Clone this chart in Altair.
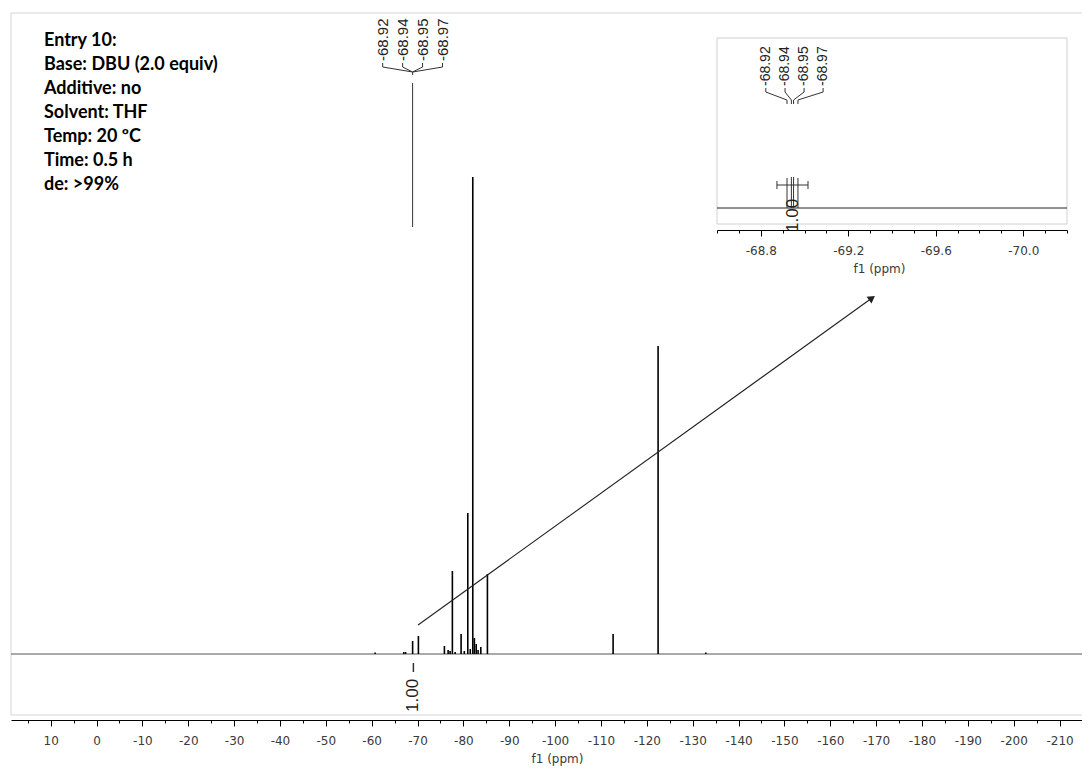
import altair as alt
import pandas as pd

# ---------------- data ----------------
# main 19F spectrum: peak positions (ppm) and heights (arbitrary units)
peak_ppm = [-60.75, -67.0, -67.4, -68.93, -70.19, -75.86, -76.67, -77.1, -77.6,
            -78.2, -79.5, -80.2, -80.96, -81.5, -82.05, -82.4, -82.8, -83.2,
            -83.8, -85.24, -112.65, -122.46, -132.86]
peak_height = [1.5, 2, 2, 13, 18, 8, 4, 3, 83,
               2, 20, 3, 141, 5, 477, 16, 10, 4,
               7, 80, 20, 308, 1.5]

label_text = ["-68.92", "-68.94", "-68.95", "-68.97"]
main_label_ppm = [-62.4, -66.75, -71.1, -75.45]
multiplet_ppm = -68.93
integral_main_ppm = -69.1
integral_value = "1.00"

# inset (zoom of the -68.9 multiplet)
inset_peak_ppm = [-68.92, -68.94, -68.95, -68.97]
inset_peak_height = [30, 31, 31, 30]
inset_label_ppm = [-68.823, -68.911, -68.998, -69.085]
inset_integral_from = -68.874
inset_integral_to = -69.016
inset_integral_text_ppm = -68.947

info_lines = ["Entry 10:", "Base: DBU (2.0 equiv)", "Additive: no", "Solvent: THF",
              "Temp: 20 \u00baC", "Time: 0.5 h", "de: >99%"]

main_ticks = [15, 10, 5, 0, -5, -10, -15, -20, -25, -30, -35, -40, -45, -50, -55,
              -60, -65, -70, -75, -80, -85, -90, -95, -100, -105, -110, -115, -120,
              -125, -130, -135, -140, -145, -150, -155, -160, -165, -170, -175, -180,
              -185, -190, -195, -200, -205, -210]
inset_ticks = [-68.6, -68.7, -68.8, -68.9, -69.0, -69.1, -69.2, -69.3, -69.4,
               -69.5, -69.6, -69.7, -69.8, -69.9, -70.0, -70.1, -70.2]

X_MIN, X_MAX = 18.65, -214.9
Y_MIN, Y_MAX = -61, 641
IN_MIN, IN_MAX = -68.6, -70.2

# ---------------- scales / axes ----------------
TICK_FONT = "DejaVu Sans"
xs = alt.Scale(domain=[X_MIN, X_MAX], nice=False, zero=False)
ys = alt.Scale(domain=[Y_MIN, Y_MAX], nice=False, zero=False)

xaxis = alt.Axis(
    values=main_ticks,
    labelExpr="datum.value % 10 === 0 ? '' + datum.value : ''",
    tickSize={"condition": {"test": "datum.value % 10 === 0", "value": 6}, "value": 3},
    offset=5, grid=False, domainColor="black", tickColor="black", tickWidth=1,
    labelFont=TICK_FONT, labelFontSize=12, labelColor="#3a3a3a", labelPadding=9,
    labelFlush=False, labelOverlap=False,
    title="f1 (ppm)", titleFont=TICK_FONT, titleFontSize=12, titleFontWeight="normal",
    titleColor="#3a3a3a", titleX=546, titleY=38, titleBaseline="middle", titleAlign="center",
)

ixs = alt.Scale(domain=[IN_MIN, IN_MAX], range=[706, 1056], nice=False, zero=False)
iys = alt.Scale(domain=[-16, 170], range=[211, 25], nice=False, zero=False)
ixaxis = alt.Axis(
    orient="bottom", offset=-485,
    values=inset_ticks,
    labelExpr="abs(round(datum.value*10)) % 4 === 0 ? replace(format(datum.value, '.1f'), '\u2212', '-') : ''",
    tickSize={"condition": {"test": "abs(round(datum.value*10)) % 4 === 0", "value": 6}, "value": 3},
    grid=False, domainColor="black", tickColor="black", tickWidth=1,
    labelFont=TICK_FONT, labelFontSize=12, labelColor="#3a3a3a", labelPadding=9,
    labelFlush=False, labelOverlap=False,
    title="f1 (ppm)", titleFont=TICK_FONT, titleFontSize=12, titleFontWeight="normal",
    titleColor="#3a3a3a", titleX=868, titleY=38, titleBaseline="middle", titleAlign="center",
)


def MX(f):
    return alt.X(f, type="quantitative", scale=xs, axis=xaxis)


def MY(f):
    return alt.Y(f, type="quantitative", scale=ys, axis=None)


def IX(f):
    return alt.X(f, type="quantitative", scale=ixs, axis=ixaxis)


def IY(f):
    return alt.Y(f, type="quantitative", scale=iys, axis=None)


# ---------------- main spectrum layers ----------------
# light frame (top, left, bottom) of the spectrum window
frame_lines = pd.DataFrame({
    "x": [X_MIN, X_MIN, X_MIN], "x2": [X_MAX, X_MAX, X_MIN],
    "y": [Y_MAX, Y_MIN, Y_MIN], "y2": [Y_MAX, Y_MIN, Y_MAX]})
mframe = alt.Chart(frame_lines).mark_rule(color="#d4d4d4", strokeWidth=1).encode(
    x=MX("x"), x2="x2", y=MY("y"), y2="y2")

peaks_df = pd.DataFrame({"x": peak_ppm, "y": 0, "y2": peak_height})
baseline_df = pd.DataFrame({"x": [X_MIN], "x2": [X_MAX], "y": [0]})

baseline = alt.Chart(baseline_df).mark_rule(color="#555", strokeWidth=1).encode(
    x=MX("x"), x2="x2", y=MY("y"))
peaks = alt.Chart(peaks_df).mark_rule(color="black", strokeWidth=1.6).encode(
    x=MX("x"), y=MY("y"), y2="y2")

seg = []
for lx in main_label_ppm:
    seg.append((lx, lx, 591, 587))
    seg.append((lx, multiplet_ppm, 587, 582))
seg.append((multiplet_ppm, multiplet_ppm, 582, 579))
seg.append((multiplet_ppm, multiplet_ppm, 571, 427))
seg_df = pd.DataFrame(seg, columns=["x", "x2", "y", "y2"])
brackets = alt.Chart(seg_df).mark_rule(color="#333", strokeWidth=1).encode(
    x=MX("x"), x2="x2", y=MY("y"), y2="y2")

lab_df = pd.DataFrame({"x": main_label_ppm, "y": 593, "t": label_text})
labels = alt.Chart(lab_df).mark_text(
    angle=270, align="left", baseline="middle", font="Liberation Sans",
    fontSize=15, color="#222").encode(x=MX("x"), y=MY("y"), text="t:N")

integ_df = pd.DataFrame({"x": [integral_main_ppm], "y": [-9], "y2": [-18],
                         "ty": [-58], "t": [integral_value]})
integ_rule = alt.Chart(integ_df).mark_rule(color="#333", strokeWidth=1.5).encode(
    x=MX("x"), y=MY("y"), y2="y2")
integ_text = alt.Chart(integ_df).mark_text(
    angle=270, align="left", baseline="middle", font="Liberation Sans",
    fontSize=17, color="#222").encode(x=MX("x"), y=MY("ty"), text="t:N")

arrow_df = pd.DataFrame({"x": [-70.11], "x2": [-169.1], "y": [29], "y2": [356]})
arrow = alt.Chart(arrow_df).mark_rule(color="#222", strokeWidth=1.1).encode(
    x=MX("x"), x2="x2", y=MY("y"), y2="y2")
head = alt.Chart(arrow_df).mark_point(
    shape="triangle-right", angle=324.4, size=70, filled=True, color="#222",
    opacity=1).encode(x=MX("x2"), y=MY("y2"))

info = alt.Chart(pd.DataFrame({"k": [0]})).mark_text(
    align="left", baseline="top", font="Lato", fontWeight="bold", fontSize=18,
    lineHeight=24, color="black").encode(
    x=alt.value(33), y=alt.value(19), text=alt.value(info_lines))

main = alt.layer(mframe, baseline, peaks, brackets, labels, integ_rule, integ_text,
                 arrow, head, info)

# ---------------- inset layers ----------------
frame_df = pd.DataFrame({"x": [IN_MIN], "x2": [IN_MAX], "y": [-16], "y2": [170]})
frame = alt.Chart(frame_df).mark_rect(fill="white", fillOpacity=0, stroke="#cfcfcf",
                                      strokeWidth=1).encode(
    x=IX("x"), x2="x2", y=IY("y"), y2="y2")

ibase_df = pd.DataFrame({"x": [IN_MIN], "x2": [IN_MAX], "y": [0]})
ibase = alt.Chart(ibase_df).mark_rule(color="#222", strokeWidth=1).encode(
    x=IX("x"), x2="x2", y=IY("y"))

ipeaks_df = pd.DataFrame({"x": inset_peak_ppm, "y": 0, "y2": inset_peak_height})
ipeaks = alt.Chart(ipeaks_df).mark_rule(color="#333", strokeWidth=1).encode(
    x=IX("x"), y=IY("y"), y2="y2")

iseg = []
for lx, px in zip(inset_label_ppm, inset_peak_ppm):
    iseg.append((lx, lx, 120, 116))
    iseg.append((lx, px, 116, 108))
    iseg.append((px, px, 108, 104))
# integral bar with end caps
iseg.append((inset_integral_from, inset_integral_to, 23, 23))
iseg.append((inset_integral_from, inset_integral_from, 19, 27))
iseg.append((inset_integral_to, inset_integral_to, 19, 27))
iseg_df = pd.DataFrame(iseg, columns=["x", "x2", "y", "y2"])
ibrackets = alt.Chart(iseg_df).mark_rule(color="#333", strokeWidth=1).encode(
    x=IX("x"), x2="x2", y=IY("y"), y2="y2")

ilab_df = pd.DataFrame({"x": inset_label_ppm, "y": 122, "t": label_text})
ilabels = alt.Chart(ilab_df).mark_text(
    angle=270, align="left", baseline="middle", font="Liberation Sans",
    fontSize=14, color="#222").encode(x=IX("x"), y=IY("y"), text="t:N")

iint_df = pd.DataFrame({"x": [inset_integral_text_ppm], "y": [-24], "t": [integral_value]})
iint = alt.Chart(iint_df).mark_text(
    angle=270, align="left", baseline="middle", font="Liberation Sans",
    fontSize=17, color="#222").encode(x=IX("x"), y=IY("y"), text="t:N")

inset = alt.layer(frame, ibase, ipeaks, ibrackets, ilabels, iint)

chart = alt.layer(main, inset).resolve_scale(x="independent", y="independent").properties(
    width=1071, height=702,
    padding={"left": 3, "top": 5, "right": 0, "bottom": 52},
    autosize=alt.AutoSizeParams(type="none"),
    background="white",
).configure_view(stroke=None)

chart.save("out.html", embed_options={"renderer": "svg", "actions": False})
